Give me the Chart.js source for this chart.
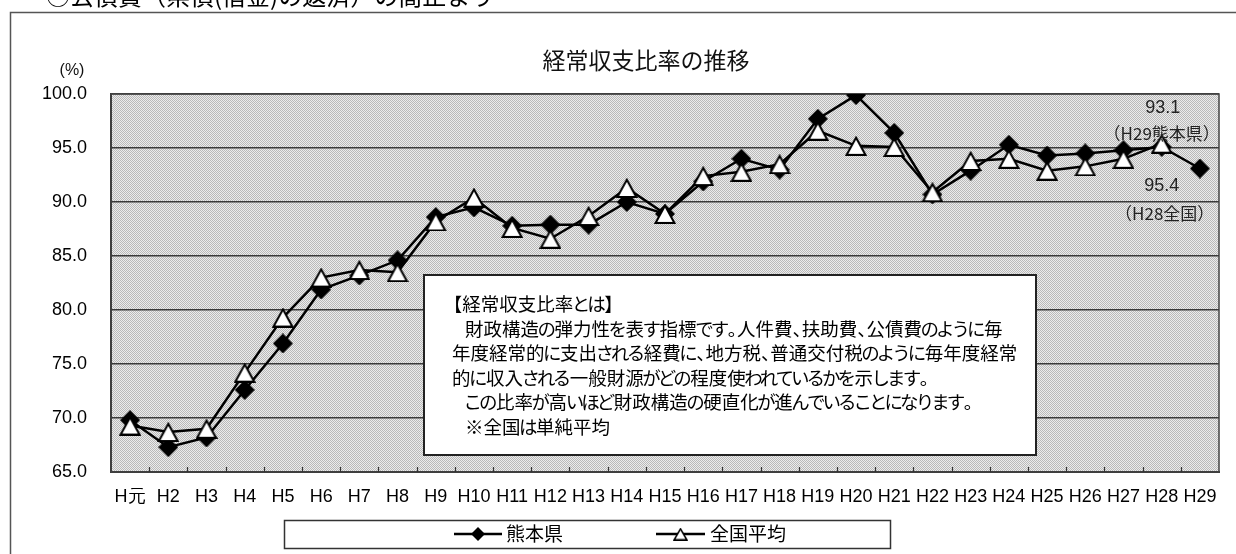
<html>

<head>
    <meta charset="utf-8">
    <title>経常収支比率の推移</title>
    <script src="https://cdn.jsdelivr.net/npm/chart.js@4.4.1/dist/chart.umd.min.js"></script>
    <style>
        body { margin: 0; background: #fff; }
    </style>
</head>

<body>
    <canvas id="myChart" width="1236" height="554"></canvas>
    <script>
        // 年度ラベル
        const labels = ['H元', 'H2', 'H3', 'H4', 'H5', 'H6', 'H7', 'H8', 'H9', 'H10',
            'H11', 'H12', 'H13', 'H14', 'H15', 'H16', 'H17', 'H18', 'H19', 'H20',
            'H21', 'H22', 'H23', 'H24', 'H25', 'H26', 'H27', 'H28', 'H29'];
        // 熊本県 (%)
        const kumamoto = [69.8, 67.3, 68.2, 72.6, 76.9, 81.9, 83.2, 84.6, 88.6, 89.5,
            87.8, 87.9, 87.9, 90.0, 88.9, 91.9, 94.0, 93.0, 97.7, 99.9,
            96.4, 90.7, 92.9, 95.3, 94.3, 94.5, 94.8, 95.1, 93.1];
        // 全国平均 (%)  H29は未公表
        const zenkoku = [69.3, 68.7, 69.0, 74.2, 79.3, 83.0, 83.7, 83.5, 88.2, 90.4,
            87.6, 86.6, 88.7, 91.3, 88.9, 92.4, 92.8, 93.5, 96.6, 95.2,
            95.1, 90.9, 93.8, 94.0, 92.9, 93.3, 94.0, 95.4, null];
        const yMin = 65;
        const yMax = 100;
        const yStep = 5;

        const headline = '○公債費（県債(借金)の返済）の高止まり';
        const chartTitle = '経常収支比率の推移';
        const unitLabel = '(%)';
        const noteLines = [
            '【経常収支比率とは】',
            '財政構造の弾力性を表す指標です。人件費、扶助費、公債費のように毎',
            '年度経常的に支出される経費に、地方税、普通交付税のように毎年度経常',
            '的に収入される一般財源がどの程度使われているかを示します。',
            'この比率が高いほど財政構造の硬直化が進んでいることになります。',
            '※全国は単純平均'
        ];
        const noteIndent = [false, true, false, false, true, true];

        const JP = "'Noto Sans CJK JP', sans-serif";
        const NUM = "'Liberation Sans', Arial, sans-serif";

        // マーカー画像
        function diamondMarker(s) {
            const c = document.createElement('canvas');
            c.width = s; c.height = s;
            const p = c.getContext('2d');
            p.fillStyle = '#000';
            p.beginPath();
            p.moveTo(s / 2, 0); p.lineTo(s, s / 2); p.lineTo(s / 2, s); p.lineTo(0, s / 2);
            p.closePath();
            p.fill();
            return c;
        }
        function triangleMarker(w, h, lw) {
            const c = document.createElement('canvas');
            c.width = w; c.height = h;
            const p = c.getContext('2d');
            p.fillStyle = '#fff';
            p.strokeStyle = '#000';
            p.lineWidth = lw;
            p.lineJoin = 'miter';
            p.beginPath();
            p.moveTo(w / 2, lw * 0.9);
            p.lineTo(w - lw * 0.8, h - lw / 2);
            p.lineTo(lw * 0.8, h - lw / 2);
            p.closePath();
            p.fill();
            p.stroke();
            return c;
        }
        const diamond = diamondMarker(20);
        const triangle = triangleMarker(22, 20, 2);
        const diamondSmall = diamondMarker(14);
        const triangleSmall = triangleMarker(15, 13, 1.6);

        function plotPattern(ctx) {
            const c = document.createElement('canvas');
            c.width = 2; c.height = 2;
            const p = c.getContext('2d');
            p.fillStyle = '#ececec';
            p.fillRect(0, 0, 2, 2);
            p.fillStyle = '#b9b9b9';
            p.fillRect(0, 0, 1, 1);
            p.fillRect(1, 1, 1, 1);
            return ctx.createPattern(c, 'repeat');
        }

        // かな・句読点を詰めて描く（プロポーショナル書体風）
        function drawProp(ctx, text, x, y, size) {
            let cx = x;
            for (const ch of text) {
                if (ch === '、' || ch === '。') {
                    ctx.fillText(ch, cx, y);
                    cx += size * 0.5;
                } else if (ch === '【') {
                    ctx.fillText(ch, cx - size * 0.45, y);
                    cx += size * 0.55;
                } else if (ch === '】') {
                    ctx.fillText(ch, cx, y);
                    cx += size * 0.55;
                } else if (/[\u3040-\u30ff]/.test(ch)) {
                    const w = ctx.measureText(ch).width;
                    ctx.fillText(ch, cx - w * 0.08, y);
                    cx += w * 0.84;
                } else {
                    ctx.fillText(ch, cx, y);
                    cx += ctx.measureText(ch).width;
                }
            }
            return cx;
        }

        const decor = {
            id: 'decor',
            beforeDraw(chart) {
                const { ctx, chartArea } = chart;
                ctx.save();
                ctx.fillStyle = '#fff';
                ctx.fillRect(0, 0, chart.width, chart.height);

                // 見出し（上端で切れている）
                ctx.fillStyle = '#000';
                ctx.font = '24px ' + JP;
                ctx.textAlign = 'left';
                ctx.textBaseline = 'alphabetic';
                ctx.fillText(headline, 46, 5);

                // 外枠
                ctx.strokeStyle = '#555';
                ctx.lineWidth = 1.5;
                ctx.strokeRect(10.5, 12.5, 1400, 700);

                // タイトル
                ctx.font = '23px ' + JP;
                ctx.textAlign = 'center';
                ctx.textBaseline = 'middle';
                ctx.fillStyle = '#111';
                ctx.fillText(chartTitle, 646, 60);

                ctx.font = '16px ' + NUM;
                ctx.fillText(unitLabel, 72, 71);

                // プロットエリア
                ctx.fillStyle = plotPattern(ctx);
                ctx.fillRect(chartArea.left, chartArea.top, chartArea.right - chartArea.left, chartArea.bottom - chartArea.top);
                ctx.restore();
            },
            beforeDatasetsDraw(chart) {
                const { ctx, chartArea } = chart;
                ctx.save();
                ctx.strokeStyle = '#444';
                ctx.lineWidth = 1.5;
                ctx.strokeRect(chartArea.left, chartArea.top, chartArea.right - chartArea.left, chartArea.bottom - chartArea.top);
                // 目盛り（内向き）
                const w = (chartArea.right - chartArea.left) / labels.length;
                ctx.strokeStyle = '#333';
                ctx.lineWidth = 1.2;
                ctx.beginPath();
                for (let i = 1; i < labels.length; i++) {
                    const x = Math.round(chartArea.left + w * i) + 0.5;
                    ctx.moveTo(x, chartArea.bottom);
                    ctx.lineTo(x, chartArea.bottom - 5);
                }
                ctx.stroke();
                ctx.restore();
            },
            afterDraw(chart) {
                const { ctx } = chart;
                const xs = chart.scales.x;
                const ys = chart.scales.y;
                ctx.save();

                // 説明ボックス
                const boxL = 424, boxT = 275, boxR = 1036, boxB = 455;
                ctx.fillStyle = '#fff';
                ctx.fillRect(boxL, boxT, boxR - boxL, boxB - boxT);
                ctx.strokeStyle = '#222';
                ctx.lineWidth = 2;
                ctx.strokeRect(boxL, boxT, boxR - boxL, boxB - boxT);
                ctx.fillStyle = '#000';
                ctx.font = '18.5px ' + JP;
                ctx.textAlign = 'left';
                ctx.textBaseline = 'middle';
                noteLines.forEach((t, i) => {
                    drawProp(ctx, t, noteIndent[i] ? 465 : 452, 304 + i * 24.6, 18.5);
                });

                // 最新値の注記
                const xl = xs.getPixelForValue(27);
                ctx.fillStyle = '#222';
                ctx.textAlign = 'center';
                ctx.font = '18px ' + NUM;
                ctx.fillText(kumamoto[28].toFixed(1), xl + 1, ys.getPixelForValue(98.7));
                ctx.fillText(zenkoku[27].toFixed(1), xl, ys.getPixelForValue(91.5));
                ctx.font = '17px ' + JP;
                ctx.fillText('（H29熊本県）', xl, ys.getPixelForValue(96.3));
                ctx.fillText('（H28全国）', xl + 3, ys.getPixelForValue(88.9));

                // 凡例
                ctx.strokeStyle = '#333';
                ctx.lineWidth = 1.5;
                ctx.strokeRect(284.5, 520.5, 606, 28);
                const ly = 534;
                const items = [
                    { x0: 454, x1: 502, img: diamondSmall, tx: 506 },
                    { x0: 656, x1: 705, img: triangleSmall, tx: 710 }
                ];
                items.forEach((it, i) => {
                    ctx.strokeStyle = '#000';
                    ctx.lineWidth = 2.5;
                    ctx.beginPath();
                    ctx.moveTo(it.x0, ly);
                    ctx.lineTo(it.x1, ly);
                    ctx.stroke();
                    const cx = (it.x0 + it.x1) / 2;
                    ctx.drawImage(it.img, cx - it.img.width / 2, ly - it.img.height / 2);
                    ctx.fillStyle = '#000';
                    ctx.font = '19px ' + JP;
                    ctx.textAlign = 'left';
                    ctx.fillText(chart.data.datasets[i].label, it.tx, ly);
                });
                ctx.restore();
            }
        };

        const ctx = document.getElementById('myChart');
        const data = {
            labels: labels,
            datasets: [
                {
                    label: '熊本県',
                    data: kumamoto,
                    borderColor: '#000',
                    borderWidth: 2.5,
                    pointStyle: diamond,
                    pointRadius: 10,
                    tension: 0,
                    fill: false,
                    order: 1
                },
                {
                    label: '全国平均',
                    data: zenkoku,
                    borderColor: '#000',
                    borderWidth: 2.5,
                    pointStyle: triangle,
                    pointRadius: 10,
                    tension: 0,
                    fill: false,
                    order: 0
                }
            ]
        };
        const config = {
            type: 'line',
            data: data,
            options: {
                responsive: false,
                animation: false,
                layout: { padding: { left: 0, right: 17, top: 94, bottom: 0 } },
                plugins: {
                    legend: { display: false },
                    title: { display: false },
                    tooltip: { enabled: false }
                },
                scales: {
                    x: {
                        offset: true,
                        grid: { display: false, drawTicks: false },
                        border: { display: true, color: '#333', width: 2 },
                        ticks: {
                            color: '#000',
                            autoSkip: false,
                            maxRotation: 0,
                            padding: 14,
                            font: { family: NUM, size: 18 }
                        },
                        afterFit(scale) { scale.height = 82; }
                    },
                    y: {
                        min: yMin,
                        max: yMax,
                        grid: { color: '#3a3a3a', lineWidth: 1.5, drawTicks: false },
                        border: { display: true, color: '#333', width: 2 },
                        ticks: {
                            stepSize: yStep,
                            color: '#000',
                            padding: 24,
                            font: { family: NUM, size: 18 },
                            callback: v => v.toFixed(1)
                        },
                        afterFit(scale) { scale.width = 111; }
                    }
                }
            },
            plugins: [decor]
        };
        const myChart = new Chart(ctx, config);
    </script>
</body>

</html>
